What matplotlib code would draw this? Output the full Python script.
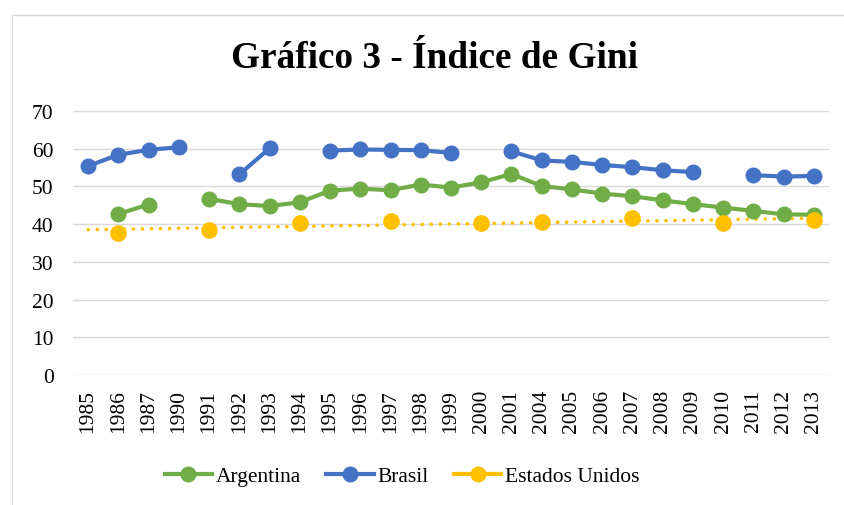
import numpy as np
import matplotlib
matplotlib.use("Agg")
from matplotlib import pyplot as plt
from matplotlib.lines import Line2D
from matplotlib.patches import Rectangle

years = ["1985", "1986", "1987", "1990", "1991", "1992", "1993", "1994", "1995",
         "1996", "1997", "1998", "1999", "2000", "2001", "2004", "2005", "2006",
         "2007", "2008", "2009", "2010", "2011", "2012", "2013"]
nan = np.nan
argentina = [nan, 42.7, 45.2, nan, 46.7, 45.3, 44.8, 45.8, 48.9, 49.4, 49.0, 50.5,
             49.7, 51.1, 53.3, 50.1, 49.2, 48.1, 47.4, 46.3, 45.3, 44.4, 43.5, 42.6, 42.5]
brasil = [55.4, 58.4, 59.7, 60.4, nan, 53.2, 60.1, nan, 59.5, 59.8, 59.7, 59.6,
          58.9, nan, 59.3, 56.9, 56.5, 55.7, 55.1, 54.3, 53.8, nan, 53.0, 52.6, 52.8]
estados_unidos = [nan, 37.7, nan, nan, 38.4, nan, nan, 40.3, nan, nan, 40.8, nan,
                  nan, 40.3, nan, 40.5, nan, nan, 41.7, nan, nan, 40.3, nan, nan, 41.0]

GREEN = "#70AD47"
BLUE = "#4472C4"
GOLD = "#FFC000"
GRID = "#D9D9D9"

plt.rcParams['font.family'] = ['Liberation Serif', 'DejaVu Serif']

fig = plt.figure(figsize=(8.44, 5.06), dpi=100)
# chart border (only top and left visible in the crop)
fig.patches.append(Rectangle((12 / 844, -0.1), 1.2, 1 - 16 / 506 + 0.1,
                             transform=fig.transFigure, fill=False,
                             edgecolor=GRID, linewidth=1))

ax = fig.add_axes([73 / 844, 1 - 376 / 506, (829 - 73) / 844, (376 - 112) / 506])
x = np.arange(len(years))

ax.plot(x, argentina, color=GREEN, lw=3, marker='o', ms=10.5, solid_capstyle='round')
ax.plot(x, brasil, color=BLUE, lw=3, marker='o', ms=10.5, solid_capstyle='round')
ax.plot(x, estados_unidos, color=GOLD, ls='none', marker='o', ms=11)

# linear trend for Estados Unidos, over category index like Excel
us = np.array(estados_unidos)
ok = ~np.isnan(us)
coef = np.polyfit(x[ok], us[ok], 1)
ax.plot(x, np.polyval(coef, x), color=GOLD, lw=2.5, ls=(0, (0.1, 2.5)),
        dash_capstyle='round', zorder=1.5)

ax.set_xlim(-0.5, len(years) - 0.5)
ax.set_ylim(0, 70)
ax.set_yticks(range(0, 71, 10))
ax.set_xticks(x)
ax.set_xticklabels(years, rotation=90)
ax.tick_params(axis='both', length=0, labelsize=15.5, colors='black')
ax.tick_params(axis='x', pad=10)
ax.tick_params(axis='y', pad=14)
ax.grid(axis='y', color=GRID, lw=1)
ax.set_axisbelow(True)
for s in ax.spines.values():
    s.set_visible(False)

fig.text(435 / 844, 1 - 58 / 506, "Gráfico 3 - Índice de Gini", ha='center',
         va='center', fontsize=26.8, fontweight='bold')

handles = [Line2D([], [], color=c, lw=3, marker='o', ms=10.5) for c in (GREEN, BLUE, GOLD)]
fig.legend(handles, ["Argentina", "Brasil", "Estados Unidos"], loc='center',
           bbox_to_anchor=(402 / 844, 1 - 477 / 506), ncol=3, frameon=False,
           fontsize=15.5, handlelength=2.2, handletextpad=0.15, columnspacing=1.2)

fig.savefig("out.png", dpi=100)
